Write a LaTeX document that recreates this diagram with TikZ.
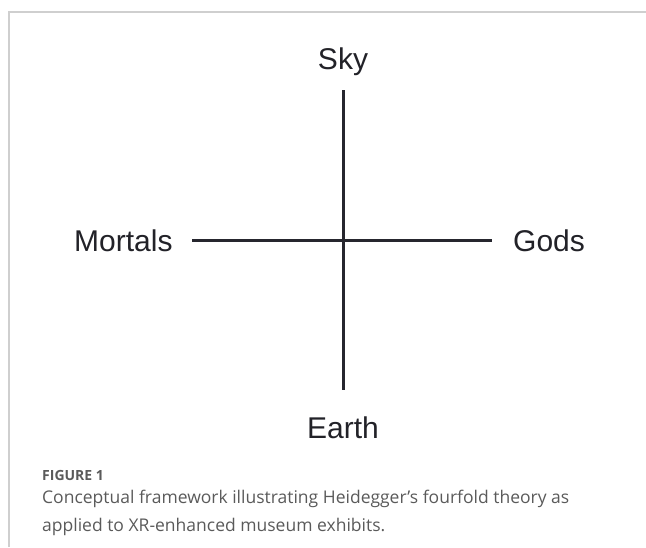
\documentclass[tikz,border=0pt]{standalone}
\usepackage{fontspec}
\setmainfont{Liberation Sans}
\newfontfamily\capfont{Open Sans}
\definecolor{axisline}{HTML}{26262E}
\definecolor{labeltext}{HTML}{222228}
\definecolor{captext}{HTML}{5A5A5A}
\definecolor{frameline}{HTML}{CFCFCF}
\begin{document}
\begin{tikzpicture}[x=1pt,y=-1pt,
  lbl/.style={inner sep=0pt,text=labeltext,font=\fontsize{30}{36}\selectfont},
  axis/.style={draw=axisline,line width=3pt},
  capline/.style={inner sep=0pt,anchor=base west,text=captext,font=\capfont\fontsize{17.5}{21}\selectfont},
  frame/.style={draw=frameline,line width=1.5pt}]
\useasboundingbox (0,0) rectangle (646,547);
\draw[frame] (9,547) -- (9,12) -- (646,12);
% labels
\node[lbl,anchor=base] (sky) at (343,69) {Sky};
\node[lbl,anchor=base] (earth) at (343,438) {Earth};
\node[lbl,anchor=base west] (mortals) at (74,251) {Mortals};
\node[lbl,anchor=base west] (gods) at (513,251) {Gods};
% axes
\coordinate (top) at (343,90);
\coordinate (bottom) at (343,390);
\coordinate (left) at (192,240);
\coordinate (right) at (492,240);
\draw[axis] (top) -- (bottom);
\draw[axis] (left) -- (right);
% caption
\node[inner sep=0pt,anchor=base west,text=captext,font=\capfont\bfseries\fontsize{14}{17}\selectfont] (fig) at (42,480) {FIGURE 1};
\node[capline] (cap1) at (42,503) {Conceptual framework illustrating Heidegger’s fourfold theory as};
\node[capline] (cap2) at (42,531) {applied to XR-enhanced museum exhibits.};
\end{tikzpicture}
\end{document}
